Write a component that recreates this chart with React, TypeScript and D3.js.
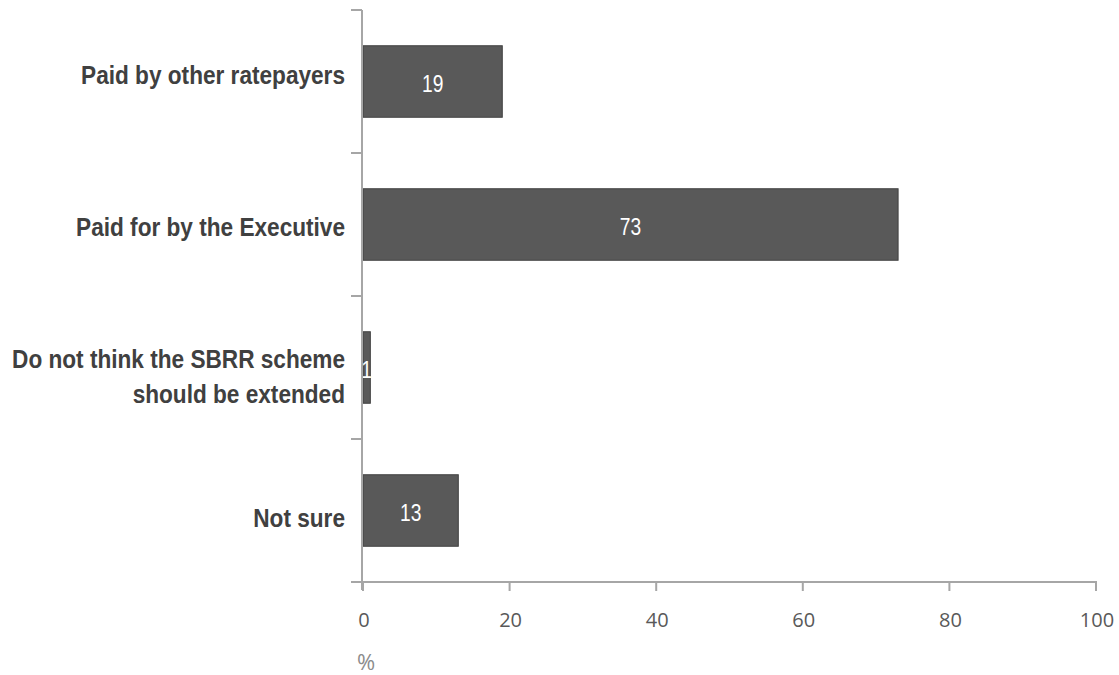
import React from "react";
import * as d3 from "d3";

const categories = [
  ["Paid by other ratepayers"],
  ["Paid for by the Executive"],
  ["Do not think the SBRR scheme", "should be extended"],
  ["Not sure"],
];
const values = [19, 73, 1, 13];
const xTicks = [0, 20, 40, 60, 80, 100];

export default function App() {
  const width = 1119, height = 675;
  const x0 = 363, x1 = 1096, yTop = 10, yBot = 582;
  const x = d3.scaleLinear().domain([0, 100]).range([x0, x1]);
  const y = d3.scaleBand().domain(categories.map((_, i) => String(i))).range([yTop, yBot]).paddingInner(0.5).paddingOuter(0.25);
  const bandBounds = d3.range(categories.length + 1).map((i) => yTop + (i * (yBot - yTop)) / categories.length);
  const axisColor = "#a6a6a6";
  const font = "'Liberation Sans', Arial, sans-serif";
  const sx = 0.87;
  // baseline offsets of the category labels relative to the bar centre
  const labelBase = [[2.5], [11.5], [0.5, 35.5], [16.5]];
  return (
    <svg width={width} height={height} style={{ position: "absolute", left: 0, top: 0 }}>
      <rect width={width} height={height} fill="#fff" />
      {values.map((v, i) => {
        const cx = (x(0) + x(v)) / 2;
        const cy = y(String(i))! + y.bandwidth() / 2;
        return (
          <g key={i}>
            <rect x={x(0)} y={y(String(i))!} width={x(v) - x(0)} height={y.bandwidth()} fill="#595959" stroke="#404040" strokeWidth={1} />
            <g transform={`translate(${cx},${cy}) scale(0.8,1)`}>
              <text x={0} y={2} dy="0.35em" textAnchor="middle" fill="#fff" fontFamily={font} fontSize={24}>{v}</text>
            </g>
          </g>
        );
      })}
      <line x1={x0 - 1} x2={x0 - 1} y1={yTop} y2={yBot + 8} stroke={axisColor} strokeWidth={2} />
      {bandBounds.map((b, i) => (
        <line key={i} x1={351} x2={x0 - 1} y1={b} y2={b} stroke={axisColor} strokeWidth={2} />
      ))}
      <line x1={351} x2={x1 + 1} y1={yBot} y2={yBot} stroke={axisColor} strokeWidth={2} />
      {xTicks.map((t) => (
        <g key={t}>
          <line x1={x(t)} x2={x(t)} y1={yBot} y2={yBot + 9} stroke={axisColor} strokeWidth={2} />
          <text x={x(t) + 1} y={620} dy="0.35em" textAnchor="middle" fill="#595959" fontFamily="'Open Sans', 'DejaVu Sans', sans-serif" fontSize={20}>{t}</text>
        </g>
      ))}
      <text x={366} y={662} dy="0.35em" textAnchor="middle" fill="#8c8c8c" fontFamily="'Open Sans', 'DejaVu Sans', sans-serif" fontSize={22}>%</text>
      {categories.map((lines, i) => {
        const cy = y(String(i))! + y.bandwidth() / 2;
        return (
          <g key={i} transform={`translate(345,0) scale(${sx},1)`}>
            <text textAnchor="end" fill="#404040" fontFamily={font} fontWeight="bold" fontSize={26}>
              {lines.map((l, j) => (
                <tspan key={j} x={0} y={cy + labelBase[i][j]}>{l}</tspan>
              ))}
            </text>
          </g>
        );
      })}
    </svg>
  );
}
